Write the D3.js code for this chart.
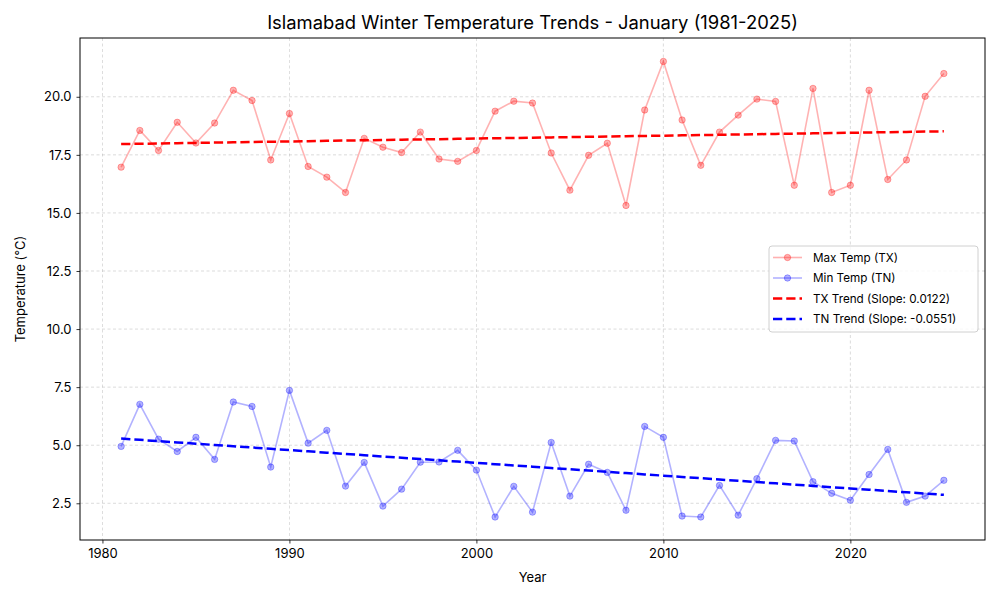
<!DOCTYPE html>
<html>
<head>
<meta charset="utf-8">
<script src="https://cdn.jsdelivr.net/npm/d3@7"></script>
<style>
  body { margin: 0; background: #fff; }
  svg { font-family: Inter, "DejaVu Sans", sans-serif; }
</style>
</head>
<body>
<svg width="1000" height="600"></svg>
<script>
// datos
const years = d3.range(1981, 2026);
const tmax = [16.97, 18.55, 17.69, 18.90, 18.01, 18.87, 20.28, 19.84, 17.28, 19.28,
  17.00, 16.54, 15.88, 18.21, 17.83, 17.60, 18.48, 17.32, 17.22, 17.69,
  19.38, 19.81, 19.73, 17.58, 15.98, 17.48, 18.00, 15.32, 19.43, 21.52,
  19.00, 17.05, 18.48, 19.21, 19.90, 19.80, 16.19, 20.36, 15.88, 16.19,
  20.28, 16.44, 17.28, 20.02, 21.00];
const tmin = [4.95, 6.76, 5.26, 4.73, 5.34, 4.39, 6.86, 6.67, 4.06, 7.36,
  5.09, 5.64, 3.24, 4.26, 2.38, 3.11, 4.27, 4.28, 4.78, 3.93,
  1.91, 3.23, 2.12, 5.12, 2.81, 4.18, 3.83, 2.20, 5.81, 5.34,
  1.95, 1.91, 3.27, 1.99, 3.56, 5.21, 5.18, 3.43, 2.93, 2.63,
  3.74, 4.82, 2.54, 2.81, 3.49];
const xTicks = [1980, 1990, 2000, 2010, 2020];
const yTicks = [2.5, 5.0, 7.5, 10.0, 12.5, 15.0, 17.5, 20.0];
const legendLabels = ["Max Temp (TX)", "Min Temp (TN)", "TX Trend (Slope: 0.0122)", "TN Trend (Slope: -0.0551)"];

const svg = d3.select("svg");
const m = { left: 80, right: 985, top: 38, bottom: 540 };

const x = d3.scaleLinear().domain([1978.8, 2027.2]).range([m.left, m.right]);
const y = d3.scaleLinear().domain([0.92, 22.53]).range([m.bottom, m.top]);

// Rejilla
svg.append("g").selectAll("line").data(xTicks).enter().append("line")
  .attr("x1", d => x(d)).attr("x2", d => x(d))
  .attr("y1", m.top).attr("y2", m.bottom)
  .attr("stroke", "#b0b0b0").attr("stroke-width", 0.8)
  .attr("stroke-dasharray", "3,2.5").attr("opacity", 0.55);
svg.append("g").selectAll("line").data(yTicks).enter().append("line")
  .attr("x1", m.left).attr("x2", m.right)
  .attr("y1", d => y(d)).attr("y2", d => y(d))
  .attr("stroke", "#b0b0b0").attr("stroke-width", 0.8)
  .attr("stroke-dasharray", "3,2.5").attr("opacity", 0.55);

// Regresion lineal
function trend(vals) {
  const mx = d3.mean(years), my = d3.mean(vals);
  let num = 0, den = 0;
  years.forEach((t, i) => { num += (t - mx) * (vals[i] - my); den += (t - mx) ** 2; });
  const b = num / den, a = my - b * mx;
  return years.map(t => a + b * t);
}

const line = d3.line().x((d, i) => x(years[i])).y(d => y(d));

function serie(vals, color) {
  svg.append("path").datum(vals)
    .attr("d", line).attr("fill", "none")
    .attr("stroke", color).attr("stroke-width", 1.6).attr("opacity", 0.3);
  svg.append("g").selectAll("circle").data(vals).enter().append("circle")
    .attr("cx", (d, i) => x(years[i])).attr("cy", d => y(d))
    .attr("r", 3.2).attr("fill", color).attr("fill-opacity", 0.3)
    .attr("stroke", color).attr("stroke-opacity", 0.3).attr("stroke-width", 1);
}
serie(tmax, "red");
serie(tmin, "blue");

svg.append("path").datum(trend(tmax)).attr("d", line).attr("fill", "none")
  .attr("stroke", "red").attr("stroke-width", 2.5).attr("stroke-dasharray", "9.25,4");
svg.append("path").datum(trend(tmin)).attr("d", line).attr("fill", "none")
  .attr("stroke", "#0000ff").attr("stroke-width", 2.5).attr("stroke-dasharray", "9.25,4");

// Ejes
const xAxis = svg.append("g").attr("transform", `translate(0,${m.bottom})`)
  .call(d3.axisBottom(x).tickValues(xTicks).tickFormat(d3.format("d")).tickSizeOuter(0).tickSize(3.5).tickPadding(5));
const yAxis = svg.append("g").attr("transform", `translate(${m.left},0)`)
  .call(d3.axisLeft(y).tickValues(yTicks).tickFormat(d3.format(".1f")).tickSizeOuter(0).tickSize(3.5).tickPadding(5));
[xAxis, yAxis].forEach(g => {
  g.selectAll("text").attr("font-size", 13).attr("fill", "#000").attr("font-family", "Inter, sans-serif");
  g.selectAll("line").attr("stroke", "#000").attr("stroke-width", 0.8);
  g.select(".domain").remove();
});

svg.append("rect").attr("x", m.left).attr("y", m.top)
  .attr("width", m.right - m.left).attr("height", m.bottom - m.top)
  .attr("fill", "none").attr("stroke", "#000").attr("stroke-width", 1);

// Titulos
svg.append("text").attr("x", (m.left + m.right) / 2).attr("y", 29)
  .attr("text-anchor", "middle").attr("font-size", 18.4)
  .text("Islamabad Winter Temperature Trends - January (1981-2025)");
svg.append("text").attr("x", (m.left + m.right) / 2).attr("y", 582)
  .attr("text-anchor", "middle").attr("font-size", 13).text("Year");
svg.append("text").attr("transform", "translate(25,289) rotate(-90)")
  .attr("text-anchor", "middle").attr("font-size", 13).text("Temperature (°C)");

// Leyenda
const lg = svg.append("g").attr("transform", "translate(769,246)");
lg.append("rect").attr("width", 209).attr("height", 86).attr("rx", 3)
  .attr("fill", "#fff").attr("fill-opacity", 0.8).attr("stroke", "#d0d0d0");
const legendStyle = [
  { color: "red", dash: null, op: 0.3, w: 1.6, marker: true },
  { color: "blue", dash: null, op: 0.3, w: 1.6, marker: true },
  { color: "red", dash: "9.25,4", op: 1, w: 2.5, marker: false },
  { color: "#0000ff", dash: "9.25,4", op: 1, w: 2.5, marker: false }
];
legendLabels.forEach((lab, i) => {
  const s = legendStyle[i];
  const yy = 11.5 + i * 20.5;
  lg.append("line").attr("x1", 4).attr("x2", 33).attr("y1", yy).attr("y2", yy)
    .attr("stroke", s.color).attr("stroke-width", s.w).attr("opacity", s.op)
    .attr("stroke-dasharray", s.dash);
  if (s.marker) {
    lg.append("circle").attr("cx", 18.5).attr("cy", yy).attr("r", 3.2)
      .attr("fill", s.color).attr("fill-opacity", 0.3)
      .attr("stroke", s.color).attr("stroke-opacity", 0.3);
  }
  lg.append("text").attr("x", 44).attr("y", yy).attr("dy", "0.35em")
    .attr("font-size", 11.7).text(lab);
});
</script>
</body>
</html>
